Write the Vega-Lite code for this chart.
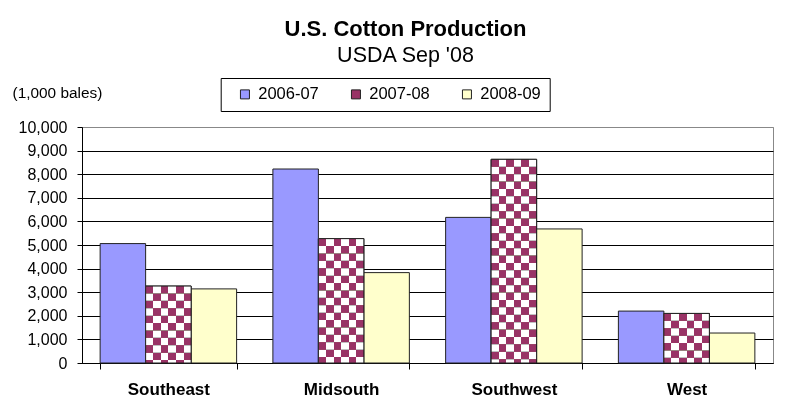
{
  "$schema": "https://vega.github.io/schema/vega-lite/v6.json",
  "width": 691,
  "height": 236,
  "autosize": {"type": "none"},
  "padding": {"left": 82, "top": 127, "right": 18, "bottom": 39},
  "background": "white",
  "title": {
    "text": "U.S. Cotton Production",
    "subtitle": "USDA Sep '08",
    "font": "Liberation Sans",
    "fontSize": 22,
    "fontWeight": "bold",
    "color": "black",
    "subtitleFont": "Liberation Sans",
    "subtitleFontSize": 21.5,
    "subtitleColor": "black",
    "subtitlePadding": 4,
    "anchor": "middle",
    "dx": -22,
    "offset": 10
  },
  "data": {
    "values": [
      {"region": "Southeast", "season": "2006-07", "value": 5060},
      {"region": "Southeast", "season": "2007-08", "value": 3260},
      {"region": "Southeast", "season": "2008-09", "value": 3140},
      {"region": "Midsouth", "season": "2006-07", "value": 8220},
      {"region": "Midsouth", "season": "2007-08", "value": 5270},
      {"region": "Midsouth", "season": "2008-09", "value": 3830},
      {"region": "Southwest", "season": "2006-07", "value": 6170},
      {"region": "Southwest", "season": "2007-08", "value": 8630},
      {"region": "Southwest", "season": "2008-09", "value": 5680},
      {"region": "West", "season": "2006-07", "value": 2200},
      {"region": "West", "season": "2007-08", "value": 2100},
      {"region": "West", "season": "2008-09", "value": 1270}
    ]
  },
  "encoding": {
    "x": {
      "field": "region",
      "type": "nominal",
      "sort": ["Southeast", "Midsouth", "Southwest", "West"],
      "scale": {"paddingInner": 0.21, "paddingOuter": 0.105},
      "axis": {
        "title": null,
        "labelAngle": 0,
        "labelFont": "Liberation Sans",
        "labelFontSize": 17,
        "labelFontWeight": "bold",
        "labelColor": "black",
        "labelPadding": 12,
        "tickBand": "extent",
        "tickSize": 6,
        "tickColor": "black",
        "domainColor": "black",
        "grid": false
      }
    },
    "xOffset": {
      "field": "season",
      "type": "nominal",
      "sort": ["2006-07", "2007-08", "2008-09"],
      "scale": {"paddingInner": 0, "paddingOuter": 0}
    },
    "y": {
      "field": "value",
      "type": "quantitative",
      "scale": {"domain": [0, 10000], "nice": false},
      "axis": {
        "values": [0, 1000, 2000, 3000, 4000, 5000, 6000, 7000, 8000, 9000, 10000],
        "format": ",.0f",
        "title": "(1,000 bales)",
        "titleAngle": 0,
        "titleAlign": "left",
        "titleBaseline": "middle",
        "titleX": -70,
        "titleY": -35,
        "titleFont": "Liberation Sans",
        "titleFontSize": 15.4,
        "titleFontWeight": "normal",
        "titleColor": "black",
        "labelFont": "Liberation Sans",
        "labelFontSize": 16,
        "labelColor": "black",
        "labelPadding": 10,
        "tickSize": 5,
        "tickColor": "black",
        "domainColor": "black",
        "grid": true,
        "gridColor": {"condition": {"test": "datum.value === 10000", "value": "#888888"}, "value": "black"},
        "gridOpacity": 1,
        "gridWidth": 1
      }
    }
  },
  "layer": [
    {
      "mark": {"type": "bar", "stroke": "#222222", "strokeWidth": 1},
      "encoding": {
        "color": {
          "field": "season",
          "type": "nominal",
          "scale": {"domain": ["2006-07", "2007-08", "2008-09"], "range": ["#9999FF", "#993366", "#FFFFCC"]},
          "legend": {
            "orient": "none",
            "legendX": 138.7,
            "legendY": -49,
            "direction": "horizontal",
            "title": " ",
            "titleOrient": "left",
            "titlePadding": 8,
            "titleFontSize": 10,
            "padding": 8,
            "strokeColor": "black",
            "fillColor": "white",
            "symbolType": "square",
            "symbolSize": 81,
            "symbolStrokeColor": "#222222",
            "symbolStrokeWidth": 1,
            "symbolOpacity": 1,
            "labelFont": "Liberation Sans",
            "labelFontSize": 16.5,
            "labelColor": "black",
            "labelOffset": 5,
            "columnPadding": 28
          }
        }
      }
    },
    {
      "transform": [{"filter": "datum.season === '2007-08'"}],
      "mark": {
        "type": "bar",
        "strokeWidth": 0,
        "fill": {
          "gradient": "linear",
          "x1": 0, "y1": 0, "x2": 1, "y2": 0,
          "stops": [
            {"offset": 0, "color": "white"},
            {"offset": 0.1667, "color": "white"},
            {"offset": 0.1667, "color": "black"},
            {"offset": 0.3333, "color": "black"},
            {"offset": 0.3333, "color": "white"},
            {"offset": 0.5, "color": "white"},
            {"offset": 0.5, "color": "black"},
            {"offset": 0.6667, "color": "black"},
            {"offset": 0.6667, "color": "white"},
            {"offset": 0.8333, "color": "white"},
            {"offset": 0.8333, "color": "black"},
            {"offset": 1, "color": "black"}
          ]
        }
      }
    },
    {
      "transform": [{"filter": "datum.season === '2007-08'"}],
      "mark": {
        "type": "rule",
        "stroke": "white",
        "strokeWidth": {"expr": "bandwidth('xOffset')"},
        "strokeDash": [7.4, 7.4],
        "strokeCap": "butt",
        "blend": "difference"
      },
      "encoding": {
        "y2": {"datum": 0}
      }
    },
    {
      "transform": [{"filter": "datum.season === '2007-08'"}],
      "mark": {"type": "bar", "fill": "#993366", "strokeWidth": 0, "blend": "lighten"}
    },
    {
      "transform": [{"filter": "datum.season === '2007-08'"}],
      "mark": {"type": "bar", "fillOpacity": 0, "stroke": "#222222", "strokeWidth": 1}
    }
  ],
  "config": {
    "font": "Liberation Sans",
    "view": {"stroke": "#888888", "strokeWidth": 1}
  }
}
